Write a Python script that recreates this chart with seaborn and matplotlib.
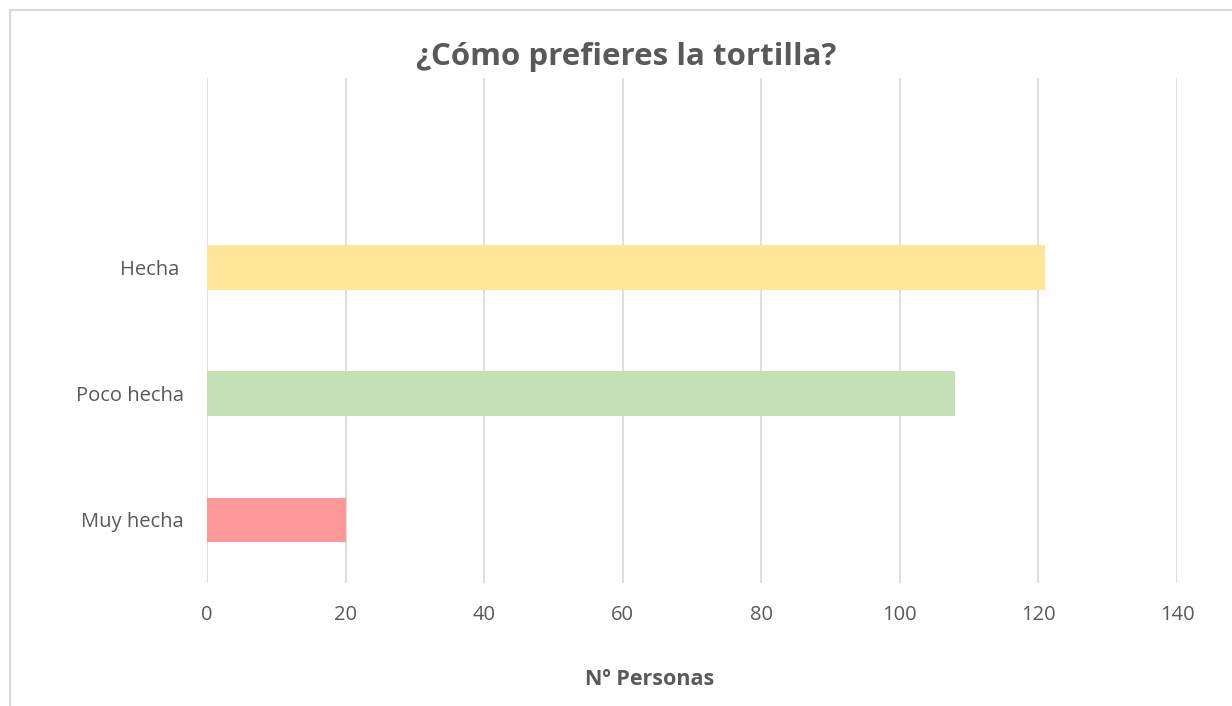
import pandas as pd
import seaborn as sns
import matplotlib.pyplot as plt
from matplotlib.lines import Line2D

# datos
categorias = ["Hecha ", "Poco hecha", "Muy hecha"]
personas = [121, 108, 20]
colores = ["#FFE699", "#C5E0B4", "#FF9999"]
ticks_x = [0, 20, 40, 60, 80, 100, 120, 140]

gris = "#595959"

sns.set_theme(style="white")
plt.rcParams['font.family'] = ['Open Sans', 'DejaVu Sans']

df = pd.DataFrame({"cat": categorias, "n": personas})

fig = plt.figure(figsize=(12.32, 7.06), dpi=100)
ax = fig.add_axes([0.168, 0.1742, 0.7874, 0.7153])

sns.barplot(data=df, x="n", y="cat", hue="cat", palette=colores, order=categorias,
            orient="h", width=0.354, legend=False, ax=ax, saturation=1, linewidth=0)

ax.set_xlim(0, 140)
ax.set_ylim(2.5, -1.5)
ax.set_xticks(ticks_x)
ax.xaxis.grid(True, color="#D9D9D9", linewidth=1.2)
ax.set_axisbelow(True)
for s in ax.spines.values():
    s.set_visible(False)
ax.tick_params(axis="x", length=0, pad=16, labelsize=14.5, labelcolor=gris)
ax.tick_params(axis="y", length=0, pad=16.5, labelsize=14.5, labelcolor=gris)
ax.set_ylabel("")
ax.set_xlabel("Nº Personas", fontsize=15.5, fontweight="bold", color=gris)
ax.xaxis.set_label_coords(0.456, -0.191)
ax.xaxis.label.set_va("center")

fig.text(0.508, 0.919, "¿Cómo prefieres la tortilla?", ha="center", va="center",
         fontsize=22.5, fontweight="bold", color=gris)

# marco del gráfico
fig.add_artist(Line2D([0.0085, 1.0], [0.986, 0.986], color="#D9D9D9", linewidth=1.5))
fig.add_artist(Line2D([0.0085, 0.0085], [0.986, 0.0], color="#D9D9D9", linewidth=1.5))

fig.savefig("out.png", dpi=100)
